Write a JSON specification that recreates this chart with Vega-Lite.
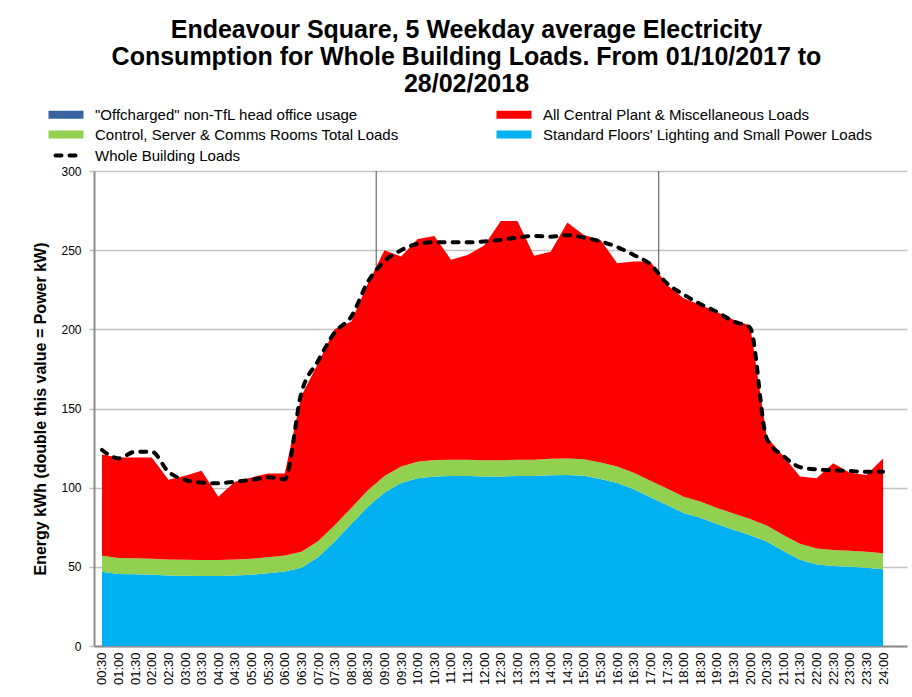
{
  "$schema": "https://vega.github.io/schema/vega-lite/v6.json",
  "width": 813,
  "height": 475,
  "autosize": {"type": "none"},
  "padding": {"left": 94, "top": 171, "right": 5, "bottom": 51},
  "background": "white",
  "config": {
    "view": {"stroke": null},
    "font": "Liberation Sans"
  },
  "title": {
    "text": ["Endeavour Square, 5 Weekday average Electricity", "Consumption for Whole Building Loads. From 01/10/2017 to", "28/02/2018"],
    "font": "Liberation Sans",
    "fontSize": 25,
    "fontWeight": "bold",
    "lineHeight": 27,
    "color": "#000000",
    "anchor": "middle",
    "frame": "group",
    "baseline": "bottom",
    "dx": -34,
    "offset": -15
  },
  "datasets": {
    "loads": [
      {"i": 1, "std": 46.9, "ctrl": 10.1, "central": 64.0, "off": 0, "whole": 123.8},
      {"i": 2, "std": 45.5, "ctrl": 10.1, "central": 63.4, "off": 0, "whole": 118.5},
      {"i": 3, "std": 45.3, "ctrl": 10.1, "central": 63.6, "off": 0, "whole": 122.7},
      {"i": 4, "std": 45.0, "ctrl": 10.1, "central": 63.9, "off": 0, "whole": 122.7},
      {"i": 5, "std": 44.5, "ctrl": 10.1, "central": 50.4, "off": 0, "whole": 110.0},
      {"i": 6, "std": 44.3, "ctrl": 10.1, "central": 53.1, "off": 0, "whole": 104.9},
      {"i": 7, "std": 44.2, "ctrl": 10.1, "central": 56.4, "off": 0, "whole": 103.2},
      {"i": 8, "std": 44.2, "ctrl": 10.1, "central": 40.0, "off": 0, "whole": 102.8},
      {"i": 9, "std": 44.5, "ctrl": 10.1, "central": 49.2, "off": 0, "whole": 103.8},
      {"i": 10, "std": 45.0, "ctrl": 10.1, "central": 51.4, "off": 0, "whole": 104.9},
      {"i": 11, "std": 46.0, "ctrl": 10.1, "central": 52.9, "off": 0, "whole": 106.6},
      {"i": 12, "std": 47.0, "ctrl": 10.1, "central": 51.9, "off": 0, "whole": 105.3},
      {"i": 13, "std": 49.5, "ctrl": 10.1, "central": 98.4, "off": 0, "whole": 160.0},
      {"i": 14, "std": 56.0, "ctrl": 10.2, "central": 112.3, "off": 0, "whole": 180.0},
      {"i": 15, "std": 66.0, "ctrl": 10.2, "central": 123.8, "off": 0, "whole": 198.0},
      {"i": 16, "std": 77.0, "ctrl": 10.2, "central": 117.8, "off": 0, "whole": 208.0},
      {"i": 17, "std": 88.0, "ctrl": 10.3, "central": 130.7, "off": 0, "whole": 230.0},
      {"i": 18, "std": 97.0, "ctrl": 10.3, "central": 142.7, "off": 0, "whole": 243.0},
      {"i": 19, "std": 103.0, "ctrl": 10.4, "central": 132.6, "off": 0, "whole": 250.0},
      {"i": 20, "std": 106.0, "ctrl": 10.4, "central": 140.6, "off": 0, "whole": 254.0},
      {"i": 21, "std": 107.0, "ctrl": 10.4, "central": 141.6, "off": 0, "whole": 255.0},
      {"i": 22, "std": 107.4, "ctrl": 10.3, "central": 126.3, "off": 0, "whole": 255.0},
      {"i": 23, "std": 107.4, "ctrl": 10.3, "central": 129.3, "off": 0, "whole": 255.0},
      {"i": 24, "std": 107.0, "ctrl": 10.3, "central": 135.7, "off": 0, "whole": 255.5},
      {"i": 25, "std": 107.0, "ctrl": 10.3, "central": 151.2, "off": 0, "whole": 256.5},
      {"i": 26, "std": 107.4, "ctrl": 10.3, "central": 150.8, "off": 0, "whole": 258.0},
      {"i": 27, "std": 107.4, "ctrl": 10.3, "central": 128.8, "off": 0, "whole": 259.0},
      {"i": 28, "std": 107.8, "ctrl": 10.4, "central": 130.8, "off": 0, "whole": 258.5},
      {"i": 29, "std": 108.0, "ctrl": 10.4, "central": 149.0, "off": 0, "whole": 259.5},
      {"i": 30, "std": 107.5, "ctrl": 10.4, "central": 141.7, "off": 0, "whole": 258.0},
      {"i": 31, "std": 105.5, "ctrl": 10.4, "central": 140.6, "off": 0, "whole": 255.5},
      {"i": 32, "std": 103.0, "ctrl": 10.4, "central": 128.3, "off": 0, "whole": 252.0},
      {"i": 33, "std": 99.0, "ctrl": 10.4, "central": 133.4, "off": 0, "whole": 247.0},
      {"i": 34, "std": 94.0, "ctrl": 10.4, "central": 138.4, "off": 0, "whole": 241.0},
      {"i": 35, "std": 89.0, "ctrl": 10.4, "central": 128.6, "off": 0, "whole": 229.0},
      {"i": 36, "std": 84.0, "ctrl": 10.3, "central": 125.3, "off": 0, "whole": 222.0},
      {"i": 37, "std": 81.0, "ctrl": 10.2, "central": 124.3, "off": 0, "whole": 216.0},
      {"i": 38, "std": 77.0, "ctrl": 10.2, "central": 123.8, "off": 0, "whole": 211.0},
      {"i": 39, "std": 73.5, "ctrl": 10.2, "central": 122.3, "off": 0, "whole": 205.0},
      {"i": 40, "std": 70.0, "ctrl": 10.2, "central": 122.3, "off": 0, "whole": 201.0},
      {"i": 41, "std": 66.0, "ctrl": 10.1, "central": 55.9, "off": 0, "whole": 131.0},
      {"i": 42, "std": 60.0, "ctrl": 10.1, "central": 49.9, "off": 0, "whole": 120.0},
      {"i": 43, "std": 54.5, "ctrl": 10.1, "central": 42.4, "off": 0, "whole": 113.0},
      {"i": 44, "std": 51.5, "ctrl": 10.1, "central": 44.4, "off": 0, "whole": 111.5},
      {"i": 45, "std": 50.5, "ctrl": 10.1, "central": 54.8, "off": 0, "whole": 111.0},
      {"i": 46, "std": 50.0, "ctrl": 10.1, "central": 49.4, "off": 0, "whole": 110.5},
      {"i": 47, "std": 49.5, "ctrl": 10.1, "central": 48.4, "off": 0, "whole": 110.0},
      {"i": 48, "std": 48.5, "ctrl": 10.1, "central": 59.9, "off": 0, "whole": 110.0}
    ],
    "series": [
      {"key": "off", "rank": 4, "name": "\"Offcharged\" non-TfL head office usage"},
      {"key": "central", "rank": 3, "name": "All Central Plant & Miscellaneous Loads"},
      {"key": "ctrl", "rank": 2, "name": "Control, Server & Comms Rooms Total Loads"},
      {"key": "std", "rank": 1, "name": "Standard Floors' Lighting and Small Power Loads"},
      {"key": "whole", "rank": 5, "name": "Whole Building Loads"}
    ],
    "gridlines": [{"i": 17.5}, {"i": 34.5}]
  },
  "encoding": {
    "x": {
      "field": "i", "type": "quantitative",
      "scale": {"domain": [0.52, 49.44], "nice": false, "zero": false},
      "axis": {
        "values": [1,2,3,4,5,6,7,8,9,10,11,12,13,14,15,16,17,18,19,20,21,22,23,24,25,26,27,28,29,30,31,32,33,34,35,36,37,38,39,40,41,42,43,44,45,46,47,48],
        "labelExpr": "(floor(datum.value/2) < 10 ? '0' : '') + floor(datum.value/2) + ':' + (datum.value % 2 == 1 ? '30' : '00')",
        "labelAngle": 270,
        "labelAlign": "right",
        "labelBaseline": "middle",
        "labelFont": "Liberation Sans",
        "labelFontSize": 13,
        "labelColor": "#000000",
        "labelPadding": 6,
        "labelOverlap": false,
        "labelSeparation": 0,
        "ticks": false,
        "grid": false,
        "domainColor": "#8c8c8c",
        "domainWidth": 2,
        "title": null
      }
    }
  },
  "layer": [
    {
      "data": {"name": "gridlines"},
      "mark": {"type": "rule", "color": "#505050", "strokeWidth": 1},
      "encoding": {}
    },
    {
      "data": {"name": "loads"},
      "transform": [
        {"fold": ["std", "ctrl", "central", "off"], "as": ["key", "kw"]},
        {"lookup": "key", "from": {"data": {"name": "series"}, "key": "key", "fields": ["rank", "name"]}}
      ],
      "mark": {"type": "area", "interpolate": "linear"},
      "encoding": {
        "y": {
          "field": "kw", "type": "quantitative", "stack": "zero",
          "scale": {"domain": [0, 300], "nice": false},
          "axis": {
            "values": [0, 50, 100, 150, 200, 250, 300],
            "title": "Energy kWh (double this value = Power kW)",
            "titleFont": "Liberation Sans",
            "titleFontSize": 16,
            "titleFontWeight": "bold",
            "titleColor": "#000000",
            "titlePadding": 12,
            "labelFont": "Liberation Sans",
            "labelFontSize": 12,
            "labelColor": "#000000",
            "labelPadding": 8,
            "tickSize": 5,
            "tickColor": "#bdbdbd",
            "tickWidth": 1.5,
            "grid": true,
            "gridColor": "#c4c4c4",
            "gridWidth": 1.5,
            "domainColor": "#8c8c8c",
            "domainWidth": 2
          }
        },
        "color": {
          "field": "name", "type": "nominal",
          "scale": {
            "domain": ["\"Offcharged\" non-TfL head office usage", "All Central Plant & Miscellaneous Loads", "Control, Server & Comms Rooms Total Loads", "Standard Floors' Lighting and Small Power Loads", "Whole Building Loads"],
            "range": ["#3a64a0", "#ff0000", "#92d050", "#00b0f0", "#000000"]
          },
          "legend": {
            "orient": "none",
            "legendX": -35.5,
            "legendY": -64,
            "direction": "horizontal",
            "columns": 2,
            "title": null,
            "symbolType": "M-2.5,-0.57H2.5V0.57H-2.5Z",
            "symbolSize": 196,
            "symbolStrokeWidth": 0,
            "labelFont": "Liberation Sans",
            "labelFontSize": 15,
            "labelColor": "#000000",
            "labelOffset": 21.5,
            "labelLimit": 500,
            "columnPadding": 98,
            "rowPadding": 4,
            "encode": {
              "symbols": {
                "update": {
                  "shape": {"signal": "datum.value === 'Whole Building Loads' ? 'M-1.5,0H1.9' : 'M-2.5,-0.57H2.5V0.57H-2.5Z'"},
                  "fill": {"signal": "datum.value === 'Whole Building Loads' ? 'transparent' : scale('color', datum.value)"},
                  "stroke": {"signal": "datum.value === 'Whole Building Loads' ? '#000000' : 'transparent'"},
                  "strokeWidth": {"signal": "datum.value === 'Whole Building Loads' ? 4 : 0"},
                  "strokeDash": {"signal": "datum.value === 'Whole Building Loads' ? [6, 8] : [1000, 0]"},
                  "strokeCap": {"value": "round"},
                  "opacity": {"value": 1}
                }
              }
            }
          }
        },
        "order": {"field": "rank", "type": "quantitative"}
      }
    },
    {
      "data": {"name": "loads"},
      "transform": [
        {"fold": ["whole"], "as": ["key", "kw"]},
        {"lookup": "key", "from": {"data": {"name": "series"}, "key": "key", "fields": ["rank", "name"]}}
      ],
      "mark": {"type": "line", "interpolate": "monotone", "strokeWidth": 4, "strokeDash": [6, 8], "strokeCap": "round"},
      "encoding": {
        "y": {"field": "kw", "type": "quantitative"},
        "color": {"field": "name", "type": "nominal"}
      }
    }
  ]
}
